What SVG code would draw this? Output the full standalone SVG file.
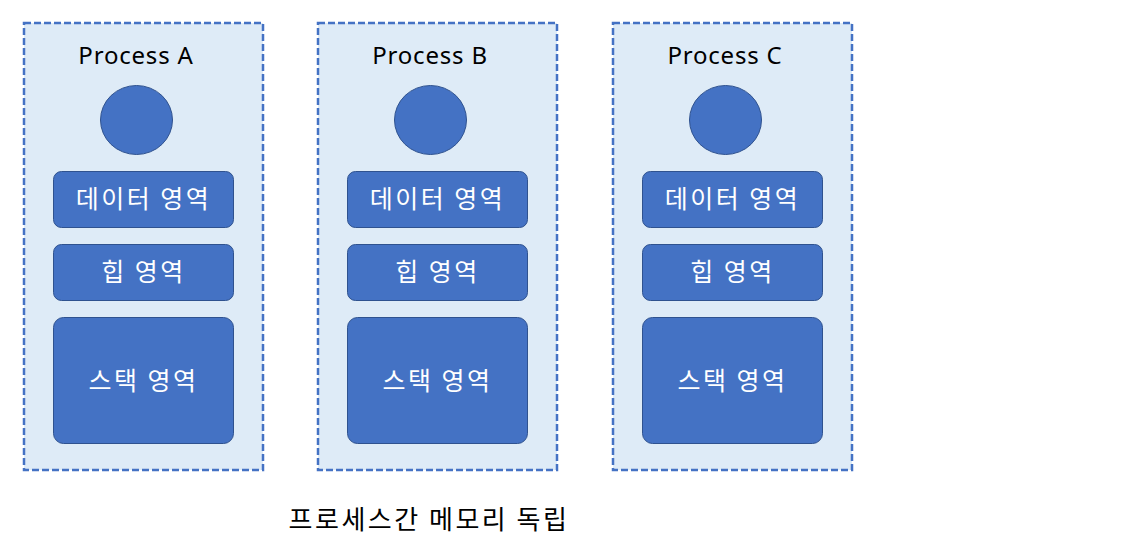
<svg xmlns="http://www.w3.org/2000/svg" width="1144" height="547" viewBox="0 0 1144 547">
<style>
.cont{fill:#DEEBF7;stroke:#4472C4;stroke-width:2.5;stroke-dasharray:7,3}
.box{fill:#4472C4;stroke:#2F528F;stroke-width:1}
.t{font-family:"Noto Sans CJK KR","Noto Sans",sans-serif;text-anchor:middle}
.h{font-family:"Noto Sans","Noto Sans CJK KR",sans-serif;font-size:24px;letter-spacing:0.8px}
.w{fill:#FFFFFF;font-size:25px;letter-spacing:2.5px}
.k{fill:#000000}
</style>
<rect width="1144" height="547" fill="#FFFFFF"/>
<g id="processA">
<rect class="cont" x="24" y="23" width="239" height="447"/>
<text class="t h k" x="136" y="64">Process A</text>
<ellipse class="box" cx="136.500" cy="120" rx="36" ry="34.500"/>
<rect class="box" x="53.500" y="171.500" width="180" height="56" rx="8"/>
<text class="t w" x="143.500" y="208">데이터 영역</text>
<rect class="box" x="53.500" y="244.500" width="180" height="56" rx="8"/>
<text class="t w" x="143.500" y="281">힙 영역</text>
<rect class="box" x="53.500" y="317.500" width="180" height="126" rx="10"/>
<text class="t w" x="143.500" y="390">스택 영역</text>
</g>
<g id="processB" transform="translate(294,0)">
<rect class="cont" x="24" y="23" width="239" height="447"/>
<text class="t h k" x="136" y="64">Process B</text>
<ellipse class="box" cx="136.500" cy="120" rx="36" ry="34.500"/>
<rect class="box" x="53.500" y="171.500" width="180" height="56" rx="8"/>
<text class="t w" x="143.500" y="208">데이터 영역</text>
<rect class="box" x="53.500" y="244.500" width="180" height="56" rx="8"/>
<text class="t w" x="143.500" y="281">힙 영역</text>
<rect class="box" x="53.500" y="317.500" width="180" height="126" rx="10"/>
<text class="t w" x="143.500" y="390">스택 영역</text>
</g>
<g id="processC" transform="translate(589,0)">
<rect class="cont" x="24" y="23" width="239" height="447"/>
<text class="t h k" x="136" y="64">Process C</text>
<ellipse class="box" cx="136.500" cy="120" rx="36" ry="34.500"/>
<rect class="box" x="53.500" y="171.500" width="180" height="56" rx="8"/>
<text class="t w" x="143.500" y="208">데이터 영역</text>
<rect class="box" x="53.500" y="244.500" width="180" height="56" rx="8"/>
<text class="t w" x="143.500" y="281">힙 영역</text>
<rect class="box" x="53.500" y="317.500" width="180" height="126" rx="10"/>
<text class="t w" x="143.500" y="390">스택 영역</text>
</g>
<g id="connectors"></g>
<g id="caption">
<text class="t k" x="429" y="529" style="font-size:26px;letter-spacing:2.5px">프로세스간 메모리 독립</text>
</g>
</svg>
